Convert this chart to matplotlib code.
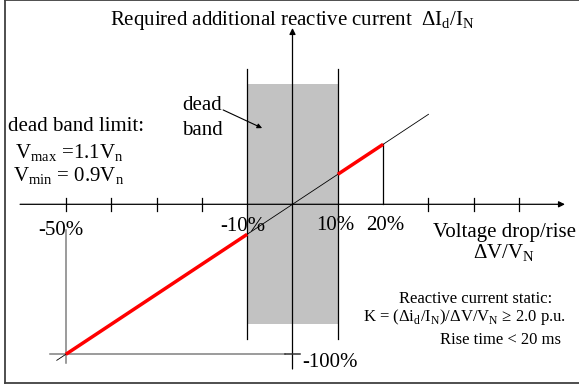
import numpy as np
import matplotlib.pyplot as plt
from matplotlib.patches import Rectangle

plt.rcParams['font.family'] = ['Liberation Serif', 'DejaVu Serif']
plt.rcParams['mathtext.fontset'] = 'custom'
plt.rcParams['mathtext.rm'] = 'Liberation Serif'

# Voltage deviation (%) vs. required reactive current (%)
tick_v = [-50, -40, -30, -20, 30, 40, 50]
tick_labels = {-50: '-50%', -10: '-10%', 10: '10%', 20: '20%'}
dead_band = [-10, 10]

# full characteristic line (thin) and the active parts (red)
char_v = [-52, 30]
char_i = [-104, 60]
red_low_v = [-50, -10]
red_low_i = [-100, -20]
red_high_v = [10, 20]
red_high_i = [20, 40]

# pixel scale: 4.533 px per % voltage, 1.5 px per % current
px_v, px_i = 4.533, 1.5
ox, oy = 292.5, 204.3
W, H = 579, 387

fig = plt.figure(figsize=(W / 100, H / 100), dpi=100)
ax = fig.add_axes([0, 0, 1, 1])
ax.set_xlim(-ox / px_v, (W - ox) / px_v)
ax.set_ylim(-(H - oy) / px_i, oy / px_i)
ax.axis('off')

# border on left, top and bottom
frame_kw = dict(color='#404040', lw=1.3)
ax.plot([-63.4, -63.4], [-119.1, 135.9], **frame_kw)
ax.plot([-63.4, 70], [135.9, 135.9], **frame_kw)
ax.plot([-63.4, 70], [-119.1, -119.1], **frame_kw)

# dead band shading
ax.add_patch(Rectangle((dead_band[0], -80), dead_band[1] - dead_band[0], 160,
                       facecolor='#c2c2c2', edgecolor='none', zorder=1))
for v in dead_band:
    ax.plot([v, v], [-90, 90], color='black', lw=0.9, zorder=2)

# axes with arrows
arrow_kw = dict(arrowstyle='-|>', color='black', lw=0.9, mutation_scale=9, shrinkA=0, shrinkB=0)
ax.annotate('', xy=(60.1, 0), xytext=(-60.1, 0), arrowprops=arrow_kw, zorder=3)
ax.annotate('', xy=(0, 117.5), xytext=(0, -109.8), arrowprops=arrow_kw, zorder=3)

for v in tick_v:
    ax.plot([v, v], [-4.4, 4.4], color='black', lw=0.9, zorder=3)

# guide lines to the -50% / -100% corner
ax.plot([-50, -50], [-17, -106], color='#808080', lw=1.1, zorder=2)
ax.plot([-53.5, -1.65], [-100, -100], color='#808080', lw=1.1, zorder=2)
ax.plot([-1.65, 1.65], [-100, -100], color='#303030', lw=1.1, zorder=3)
ax.plot([20, 20], [0, red_high_i[1]], color='black', lw=0.9, zorder=3)

# characteristic
ax.plot(char_v, char_i, color='black', lw=0.6, zorder=4)
ax.plot(red_low_v, red_low_i, color='#ff0000', lw=2.5, solid_capstyle='butt', zorder=5)
ax.plot(red_high_v, red_high_i, color='#ff0000', lw=2.5, solid_capstyle='butt', zorder=5)

fs = 15
ax.text(0, 119.5, 'Required additional reactive current  \u0394I$_\\mathregular{d}$/I$_\\mathregular{N}$',
        ha='center', va='baseline', fontsize=fs)
ax.text(-62.76, 49, 'dead band limit:', ha='left', va='baseline', fontsize=fs)
ax.text(-61.2, 30.9, 'V$_\\mathregular{max}$ =1.1V$_\\mathregular{n}$', ha='left', va='baseline', fontsize=fs)
ax.text(-61.6, 15.1, 'V$_\\mathregular{min}$ = 0.9V$_\\mathregular{n}$', ha='left', va='baseline', fontsize=fs)
ax.text(-24.4, 62.9, 'dead', ha='left', va='baseline', fontsize=fs)
ax.text(-24.4, 46.2, 'band', ha='left', va='baseline', fontsize=fs)
ax.annotate('', xy=(-6.7, 50.8), xytext=(-15.3, 62.9),
            arrowprops=dict(arrowstyle='-|>', color='black', lw=0.8, mutation_scale=7,
                            shrinkA=0, shrinkB=0), zorder=6)

label_pos = {-50: (-51.1, -20.5), -10: (-10.9, -17.8), 10: (9.4, -17.1), 20: (20.4, -17.1)}
for v, txt in tick_labels.items():
    x, y = label_pos[v]
    ax.text(x, y, txt, ha='center', va='baseline', fontsize=fs, zorder=7)

ax.text(46.8, -21.6, 'Voltage drop/rise', ha='center', va='baseline', fontsize=fs)
ax.text(46.7, -36, '\u0394V/V$_\\mathregular{N}$', ha='center', va='baseline', fontsize=fs)
ax.text(2.1, -108.3, '-100%', ha='left', va='baseline', fontsize=fs)

fs2 = 12
ax.text(40.3, -65.6, 'Reactive current static:', ha='center', va='baseline', fontsize=fs2)
ax.text(38.05, -77.6, 'K = (\u0394i$_\\mathregular{d}$/I$_\\mathregular{N}$)/\u0394V/V$_\\mathregular{N}$ \u2265 2.0 p.u.',
        ha='center', va='baseline', fontsize=fs2)
ax.text(45.8, -93.1, 'Rise time < 20 ms', ha='center', va='baseline', fontsize=fs2)

fig.savefig('out.png', dpi=100)
